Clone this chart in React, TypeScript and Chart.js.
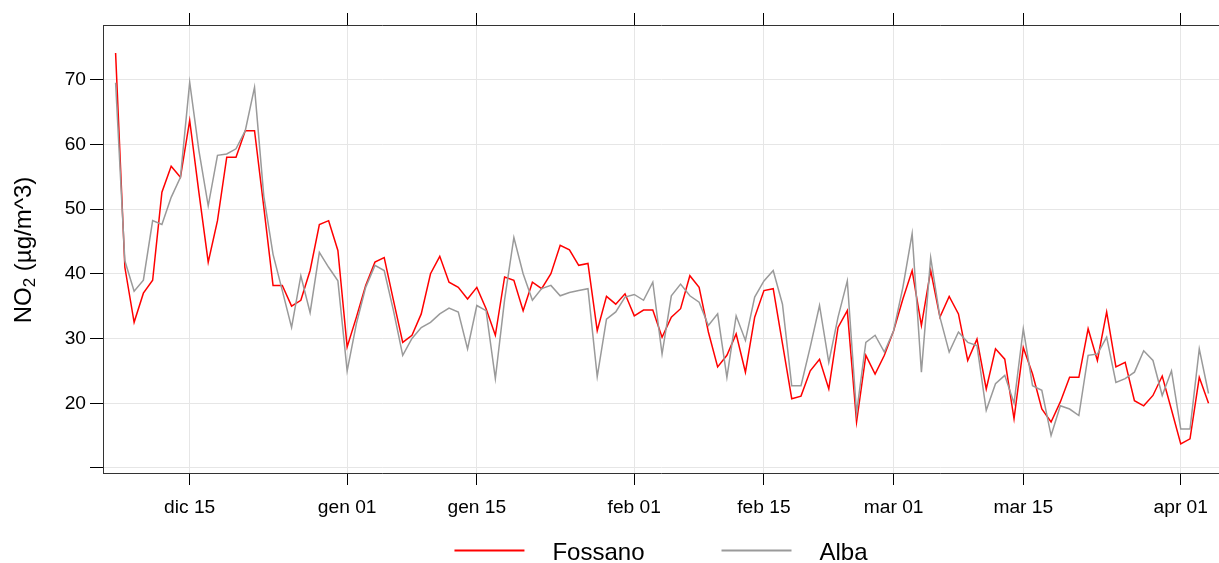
import React, { useEffect, useRef } from "react";
import { Chart, registerables } from "chart.js";

Chart.register(...registerables);

// x values are days counted from 1 December (first observation: 7 December)
const firstDay = 6;
const tickDays = [14, 31, 45, 62, 76, 90, 104, 121];
const tickLabels = ["dic 15", "gen 01", "gen 15", "feb 01", "feb 15", "mar 01", "mar 15", "apr 01"];
const yTicks = [10, 20, 30, 40, 50, 60, 70];
const seriesNames = ["Fossano", "Alba"];
const seriesColors = ["#ff0000", "#9a9a9a"];

const fossano = [
  74.1, 41.0, 32.5, 37.0, 39.0, 52.6, 56.6, 54.9, 63.7, 52.5,
  41.8, 48.2, 58.0, 58.0, 62.1, 62.1, 50.3, 38.2, 38.2, 35.0,
  35.9, 40.5, 47.6, 48.2, 43.6, 28.7, 33.3, 38.2, 41.8, 42.5,
  35.9, 29.4, 30.5, 33.8, 40.0, 42.7, 38.7, 37.9, 36.1, 37.9,
  34.6, 30.5, 39.5, 39.0, 34.3, 38.7, 37.7, 40.0, 44.4, 43.7,
  41.3, 41.6, 31.2, 36.5, 35.3, 36.9, 33.5, 34.4, 34.4, 30.2,
  33.3, 34.6, 39.7, 37.9, 31.0, 25.6, 27.4, 30.7, 24.8, 33.3,
  37.4, 37.7, 29.2, 20.7, 21.1, 25.0, 26.8, 22.2, 31.7, 34.3,
  17.1, 27.4, 24.5, 27.4, 31.2, 36.1, 40.5, 32.0, 40.5, 33.3,
  36.5, 33.8, 26.6, 29.9, 22.2, 28.4, 26.8, 17.6, 28.6, 24.5,
  19.1, 17.1, 20.2, 24.0, 24.0, 31.5, 26.6, 34.1, 25.6, 26.3,
  20.4, 19.6, 21.2, 24.2, 19.0, 13.7, 14.5, 24.0, 20.0,
];

const alba = [
  69.5, 42.0, 37.3, 39.0, 48.2, 47.6, 51.8, 54.9, 69.6, 59.0,
  50.5, 58.3, 58.5, 59.3, 62.1, 68.8, 52.0, 43.0, 37.4, 31.7,
  39.7, 34.0, 43.3, 41.0, 38.9, 25.0, 32.3, 37.9, 41.3, 40.5,
  34.3, 27.4, 30.0, 31.7, 32.5, 33.8, 34.7, 34.1, 28.4, 35.1,
  34.3, 23.8, 36.0, 45.6, 40.0, 35.9, 37.7, 38.2, 36.6, 37.1,
  37.4, 37.7, 24.1, 33.0, 34.1, 36.4, 36.8, 35.9, 38.7, 27.6,
  36.6, 38.4, 36.6, 35.6, 32.0, 33.8, 24.0, 33.5, 29.7, 36.4,
  38.9, 40.5, 35.3, 22.7, 22.7, 28.7, 35.1, 26.3, 33.3, 38.9,
  18.5, 29.4, 30.5, 27.9, 31.2, 37.9, 46.2, 24.8, 42.5, 33.3,
  27.9, 31.0, 29.4, 28.9, 18.9, 23.0, 24.3, 20.0, 31.5, 22.7,
  22.0, 15.0, 19.6, 19.1, 18.1, 27.4, 27.6, 30.2, 23.2, 23.8,
  24.8, 28.1, 26.6, 21.2, 25.0, 16.0, 16.0, 28.4, 21.5,
];

const FONT = "'Liberation Sans', Arial, Helvetica, sans-serif";
const X_MIN = 4.64;
const X_MAX = 125.13;
const Y_MIN = 9.22;
const Y_MAX = 78.43;

const textPlugin = {
  id: "textPlugin",
  afterDraw(chart: any) {
    const { ctx, chartArea } = chart;
    // y axis title with subscript
    ctx.save();
    ctx.fillStyle = "#000";
    const size = 24;
    const subSize = 17;
    const a = "NO";
    const b = "2";
    const c = " (µg/m^3)";
    ctx.font = `${size}px ${FONT}`;
    const wa = ctx.measureText(a).width;
    const wc = ctx.measureText(c).width;
    ctx.font = `${subSize}px ${FONT}`;
    const wb = ctx.measureText(b).width;
    const total = wa + wb + wc;
    const cy = (chartArea.top + chartArea.bottom) / 2 + 1;
    ctx.translate(31, cy);
    ctx.rotate(-Math.PI / 2);
    ctx.textBaseline = "alphabetic";
    ctx.textAlign = "left";
    let x = -total / 2;
    ctx.font = `${size}px ${FONT}`;
    ctx.fillText(a, x, 0);
    x += wa;
    ctx.font = `${subSize}px ${FONT}`;
    ctx.fillText(b, x, 4);
    x += wb;
    ctx.font = `${size}px ${FONT}`;
    ctx.fillText(c, x, 0);
    ctx.restore();

    // legend
    ctx.save();
    ctx.font = `${size}px ${FONT}`;
    const lineLen = 70;
    const gap = 28;
    const itemGap = 77;
    const datasets = chart.data.datasets;
    const widths = datasets.map((d: any) => ctx.measureText(d.label).width);
    let totalW = 0;
    widths.forEach((w: number, i: number) => {
      totalW += lineLen + gap + w + (i > 0 ? itemGap : 0);
    });
    const center = (chartArea.left + chartArea.right) / 2;
    let lx = center - totalW / 2;
    const lineY = chart.height - 12.5;
    const textY = chart.height - 3.5;
    datasets.forEach((d: any, i: number) => {
      ctx.strokeStyle = d.borderColor;
      ctx.lineWidth = 2;
      ctx.beginPath();
      ctx.moveTo(lx, lineY);
      ctx.lineTo(lx + lineLen, lineY);
      ctx.stroke();
      ctx.fillStyle = "#000";
      ctx.textBaseline = "alphabetic";
      ctx.textAlign = "left";
      ctx.fillText(d.label, lx + lineLen + gap, textY);
      lx += lineLen + gap + widths[i] + itemGap;
    });
    ctx.restore();
  },
};

export default function App() {
  const canvasRef = useRef<HTMLCanvasElement | null>(null);

  useEffect(() => {
    const canvas = canvasRef.current;
    if (!canvas) return;
    const toPoints = (vals: number[]) => vals.map((v, i) => ({ x: firstDay + i, y: v }));
    const series = [fossano, alba];

    const chart = new Chart(canvas, {
      type: "line",
      data: {
        datasets: series.map((vals, i) => ({
          label: seriesNames[i],
          data: toPoints(vals),
          borderColor: seriesColors[i],
          backgroundColor: seriesColors[i],
          borderWidth: 1.5,
          pointRadius: 0,
          pointHoverRadius: 0,
          fill: false,
          tension: 0,
          order: series.length - i,
        })),
      },
      options: {
        animation: false,
        responsive: false,
        devicePixelRatio: 1,
        events: [],
        layout: { padding: 0 },
        plugins: {
          legend: { display: false },
          tooltip: { enabled: false },
          title: { display: false },
        },
        scales: {
          x: {
            type: "linear",
            position: "bottom",
            min: X_MIN,
            max: X_MAX,
            afterBuildTicks: (s: any) => {
              s.ticks = tickDays.map((v) => ({ value: v }));
            },
            afterFit: (s: any) => {
              s.height = 90;
              s.paddingLeft = 0;
              s.paddingRight = 0;
            },
            ticks: {
              callback: (_v: any, idx: number) => tickLabels[idx] ?? "",
              font: { family: FONT, size: 19.2 },
              color: "#000",
              padding: 11,
              maxRotation: 0,
              minRotation: 0,
              autoSkip: false,
            },
            grid: {
              color: "#e6e6e6",
              lineWidth: 1,
              drawTicks: true,
              tickLength: 12,
              tickColor: "#000",
              tickWidth: 1,
            },
            border: { display: true, color: "#333", width: 1 },
          },
          x2: {
            type: "linear",
            position: "top",
            min: X_MIN,
            max: X_MAX,
            afterBuildTicks: (s: any) => {
              s.ticks = tickDays.map((v) => ({ value: v }));
            },
            afterFit: (s: any) => {
              s.height = 25;
              s.paddingLeft = 0;
              s.paddingRight = 0;
            },
            ticks: { display: false },
            grid: {
              drawOnChartArea: false,
              drawTicks: true,
              tickLength: 12,
              tickColor: "#000",
              tickWidth: 1,
            },
            border: { display: true, color: "#333", width: 1 },
          },
          y: {
            type: "linear",
            position: "left",
            min: Y_MIN,
            max: Y_MAX,
            afterBuildTicks: (s: any) => {
              s.ticks = yTicks.map((v) => ({ value: v }));
            },
            afterFit: (s: any) => {
              s.width = 103;
              s.paddingTop = 0;
              s.paddingBottom = 0;
            },
            ticks: {
              callback: (v: any) => (v === 10 ? "" : String(v)),
              font: { family: FONT, size: 19.2 },
              color: "#000",
              padding: 4,
            },
            grid: {
              color: "#e6e6e6",
              lineWidth: 1,
              drawTicks: true,
              tickLength: 13,
              tickColor: "#000",
              tickWidth: 1,
            },
            border: { display: true, color: "#333", width: 1 },
          },
        },
      } as any,
      plugins: [textPlugin],
    });

    return () => {
      chart.destroy();
    };
  }, []);

  return (
    <div style={{ position: "fixed", left: 0, top: 0, width: 1219, height: 563, background: "#fff" }}>
      <canvas ref={canvasRef} width={1219} height={563} style={{ display: "block", width: 1219, height: 563 }} />
    </div>
  );
}
